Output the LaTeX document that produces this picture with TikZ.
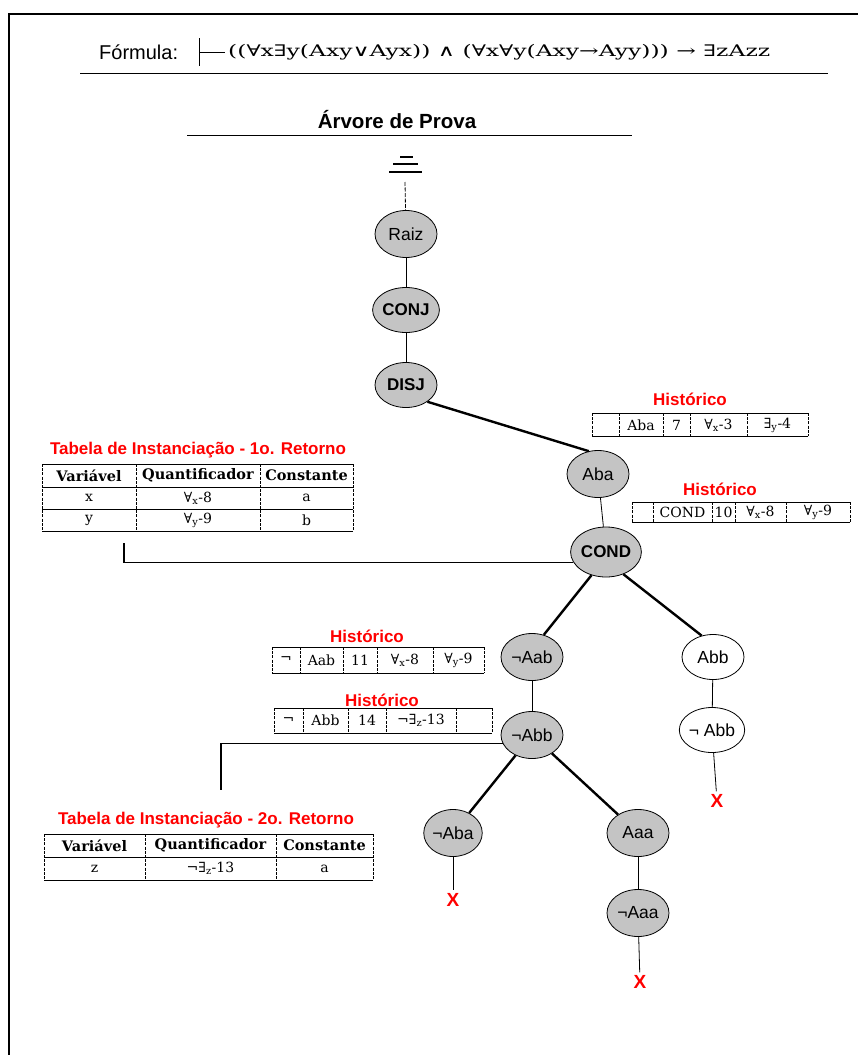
\documentclass[tikz,border=0pt]{standalone}
\usepackage{graphicx}
\usepackage{fontspec}
\setmainfont{Liberation Serif}
\setsansfont{Liberation Sans}
\newfontfamily\tabfont{DejaVu Serif}
\usetikzlibrary{shapes.geometric}

\definecolor{nodegray}{RGB}{196,196,196}

\tikzset{
  frameline/.style={line width=2pt},
  gnode/.style={ellipse, draw, fill=nodegray, line width=0.8pt, inner sep=0pt,
    minimum width=62pt, minimum height=47pt, font=\sffamily\fontsize{17.5}{18}\selectfont},
  wnode/.style={gnode, fill=white},
  bnode/.style={gnode, font=\sffamily\bfseries\fontsize{17}{18}\selectfont},
  thinedge/.style={line width=0.8pt},
  thickedge/.style={line width=2.4pt},
  linkedge/.style={line width=1.3pt},
  redlabel/.style={text=red, inner sep=0pt, font=\sffamily\bfseries\fontsize{17}{17}\selectfont},
  titlelabel/.style={redlabel, font=\sffamily\bfseries\fontsize{17}{17}\selectfont},
  xmark/.style={text=red, inner sep=3pt, font=\sffamily\bfseries\fontsize{19}{19}\selectfont},
  celltext/.style={inner sep=0pt, font=\tabfont\fontsize{14}{14}\selectfont},
  headtext/.style={inner sep=0pt, font=\tabfont\bfseries\fontsize{14.5}{14.5}\selectfont},
  vrule/.style={line width=0.8pt, dash pattern=on 3pt off 1.2pt},
  hrule/.style={line width=0.8pt},
}

\begin{document}
\begin{tikzpicture}[x=1pt,y=-1pt]
\useasboundingbox (0,0) rectangle (858,1055);

% page frame (left and top edges)
\draw[frameline] (9,1055) -- (9,14) -- (858,14);

% formula line
\node[anchor=west, inner sep=0pt, font=\sffamily\fontsize{20}{20}\selectfont] (flabel) at (99,52) {Fórmula:};
\draw[line width=1pt] (199,38) -- (199,66) (199,52) -- (225,52);
\node[anchor=west, inner sep=0pt] (formula) at (228,52)
  {\resizebox{542pt}{\height}{\tabfont\fontsize{16}{16}\selectfont ((∀x∃y(Axy∨Ayx)) ∧ (∀x∀y(Axy→Ayy))) → ∃zAzz}};
\draw[line width=1pt] (80,73) -- (828,73);

% tree title
\node[inner sep=0pt, font=\sffamily\bfseries\fontsize{20.5}{21}\selectfont] (title) at (397,120) {Árvore de Prova};
\draw[line width=1pt] (187,135) -- (632,135);

% ground symbol above the root
\draw[line width=1.2pt] (400,157) -- (413,157) (393,164) -- (418,164) (389,172) -- (422,172);
\coordinate (ground) at (405,182);

% tree nodes
\node[gnode] (raiz) at (406,234) {Raiz};
\node[bnode, minimum height=45pt] (conj) at (406,310) {CONJ};
\node[bnode, minimum height=45pt] (disj) at (406,385) {DISJ};
\node[gnode] (aba) at (598,474) {Aba};
\node[bnode, minimum height=50pt] (cond) at (606,552) {COND};
\node[gnode] (naab) at (532,657) {¬Aab};
\node[wnode, minimum height=45pt] (abb) at (713,657) {Abb};
\node[gnode] (nabb) at (532,735) {¬Abb};
\node[wnode, minimum height=45pt] (nabbw) at (712,730) {¬ Abb};
\node[gnode, minimum width=58pt] (naba) at (453,833) {¬Aba};
\node[gnode] (aaa) at (638,833) {Aaa};
\node[gnode] (naaa) at (638,913) {¬Aaa};

% closed branches
\node[xmark] (x1) at (717,801) {X};
\node[xmark] (x2) at (453,900) {X};
\node[xmark] (x3) at (640,982) {X};

% tree edges
\draw[thinedge, dash pattern=on 4pt off 1.5pt] (ground) -- (raiz);
\draw[thinedge] (raiz) -- (conj);
\draw[thinedge] (conj) -- (disj);
\draw[thickedge] (disj.-38) -- (aba.112);
\draw[thinedge] (aba) -- (cond);
\draw[thickedge] (cond.-122) -- (naab.62);
\draw[thickedge] (cond.-52) -- (abb.118);
\draw[thinedge] (naab) -- (nabb);
\draw[thinedge] (abb) -- (nabbw);
\draw[thickedge] (nabb) -- (naba);
\draw[thickedge] (nabb) -- (aaa);
\draw[thinedge] (aaa) -- (naaa);
\draw[thinedge] (nabbw) -- (x1);
\draw[thinedge] (naba) -- (x2);
\draw[thinedge] (naaa) -- (x3);

% history of Aba
\node[redlabel] (h1) at (690,399) {Histórico};
\draw[hrule] (592,413) -- (808,413) (592,436) -- (808,436);
\foreach \x in {592,619,663,690,747,808} \draw[vrule] (\x,413) -- (\x,436);
\node[celltext] (h1b) at (641,425) {Aba};
\node[celltext] (h1c) at (676.5,425) {7};
\node[celltext] (h1d) at (718.5,425) {∀\textsubscript{x}-3};
\node[celltext] (h1e) at (777.5,425) {∃\textsubscript{y}-4};

% history of COND
\node[redlabel] (h2) at (720,489) {Histórico};
\draw[hrule] (632,502) -- (850,502) (632,522) -- (850,522);
\foreach \x in {632,653,712,735,786,850} \draw[vrule] (\x,502) -- (\x,522);
\node[celltext] (h2b) at (682.5,512) {COND};
\node[celltext] (h2c) at (723.5,512) {10};
\node[celltext] (h2d) at (760.5,512) {∀\textsubscript{x}-8};
\node[celltext] (h2e) at (818,512) {∀\textsubscript{y}-9};

% history of ¬Aab
\node[redlabel] (h3) at (367,636) {Histórico};
\draw[hrule] (272,647) -- (484,647) (272,673) -- (484,673);
\foreach \x in {272,300,343,377,433,484} \draw[vrule] (\x,647) -- (\x,673);
\node[celltext] (h3a) at (286,660) {¬};
\node[celltext] (h3b) at (321.5,660) {Aab};
\node[celltext] (h3c) at (360,660) {11};
\node[celltext] (h3d) at (405,660) {∀\textsubscript{x}-8};
\node[celltext] (h3e) at (458.5,660) {∀\textsubscript{y}-9};

% history of ¬Abb
\node[redlabel] (h4) at (382,700) {Histórico};
\draw[hrule] (274,708) -- (492,708) (274,733) -- (492,733);
\foreach \x in {274,303,348,386,456,492} \draw[vrule] (\x,708) -- (\x,733);
\node[celltext] (h4a) at (288.5,720.5) {¬};
\node[celltext] (h4b) at (325.5,720.5) {Abb};
\node[celltext] (h4c) at (367,720.5) {14};
\node[celltext] (h4d) at (421,720.5) {¬∃\textsubscript{z}-13};

% first instantiation table
\node[titlelabel] (t1) at (198,450) {Tabela de Instanciação - 1o. Retorno};
\draw[hrule] (42,464) -- (353,464) (42,487) -- (353,487) (42,509) -- (353,509) (42,531) -- (353,531);
\foreach \x in {42,136,260,353} \draw[vrule] (\x,464) -- (\x,531);
\node[headtext] (t1h1) at (89,475.5) {Variável};
\node[headtext] (t1h2) at (198,475.5) {Quantificador};
\node[headtext] (t1h3) at (306.5,475.5) {Constante};
\node[celltext] (t1a1) at (89,498) {x};
\node[celltext] (t1a2) at (198,498) {∀\textsubscript{x}-8};
\node[celltext] (t1a3) at (306.5,498) {a};
\node[celltext] (t1b1) at (89,520) {y};
\node[celltext] (t1b2) at (198,520) {∀\textsubscript{y}-9};
\node[celltext] (t1b3) at (306.5,520) {b};
\coordinate (t1link) at (124,543);
\draw[linkedge] (cond.198) -- (cond.198 -| t1link) -- (t1link);

% second instantiation table
\node[titlelabel] (t2) at (206,820) {Tabela de Instanciação - 2o. Retorno};
\draw[hrule] (44,834) -- (373,834) (44,857) -- (373,857) (44,880) -- (373,880);
\foreach \x in {44,145,276,373} \draw[vrule] (\x,834) -- (\x,880);
\node[headtext] (t2h1) at (94.5,845.5) {Variável};
\node[headtext] (t2h2) at (210.5,845.5) {Quantificador};
\node[headtext] (t2h3) at (324.5,845.5) {Constante};
\node[celltext] (t2a1) at (94.5,868.5) {z};
\node[celltext] (t2a2) at (210.5,868.5) {¬∃\textsubscript{z}-13};
\node[celltext] (t2a3) at (324.5,868.5) {a};
\coordinate (t2link) at (221,790);
\draw[linkedge] (nabb.196) -- (nabb.196 -| t2link) -- (t2link);

\end{tikzpicture}
\end{document}
